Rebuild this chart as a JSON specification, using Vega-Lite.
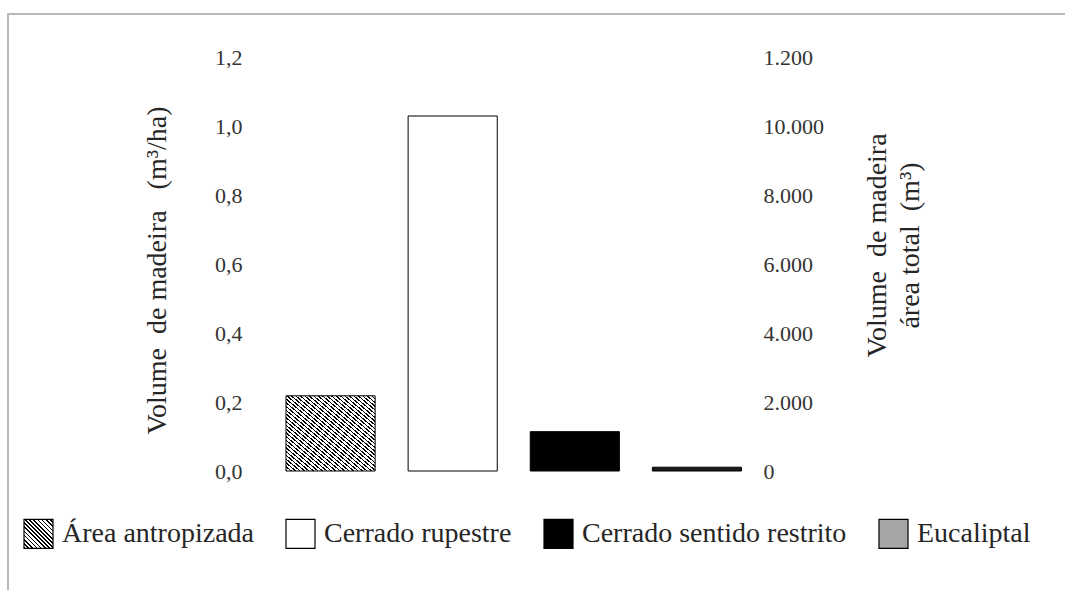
{
  "$schema": "https://vega.github.io/schema/vega-lite/v6.json",
  "autosize": {"type": "none"},
  "width": 1065,
  "height": 590,
  "padding": {"left": 8, "top": 14, "right": 0, "bottom": 0},
  "background": "white",
  "config": {
    "font": "Liberation Serif, Times New Roman, DejaVu Serif, serif",
    "view": {"stroke": "#b8b8b8", "strokeWidth": 2}
  },
  "data": {
    "values": [
      {"tipo": "Área antropizada", "vol": 0.218},
      {"tipo": "Cerrado rupestre", "vol": 1.029},
      {"tipo": "Cerrado sentido restrito", "vol": 0.114},
      {"tipo": "Eucaliptal", "vol": 0.011}
    ]
  },
  "encoding": {
    "x": {
      "field": "tipo",
      "type": "nominal",
      "sort": null,
      "axis": null,
      "scale": {"range": [261.5, 750], "paddingInner": 0.27, "paddingOuter": 0.135}
    }
  },
  "layer": [
    {
      "mark": {"type": "bar", "stroke": "black", "strokeWidth": 1},
      "encoding": {
        "y": {
          "field": "vol",
          "type": "quantitative",
          "scale": {"domain": [0, 1.2], "range": [457, 43], "nice": false},
          "axis": {
            "orient": "left",
            "values": [0, 0.2, 0.4, 0.6, 0.8, 1.0, 1.2],
            "labelExpr": "replace(format(datum.value, '.1f'), '.', ',')",
            "domain": false,
            "ticks": false,
            "grid": false,
            "offset": -236,
            "labelPadding": 2,
            "labelFont": "Liberation Serif, Times New Roman, DejaVu Serif, serif",
            "labelFontSize": 22,
            "labelColor": "#333333",
            "title": "Volume\u00a0 de madeira \u00a0 (m³/ha)",
            "titleFont": "Liberation Serif, Times New Roman, DejaVu Serif, serif",
            "titleFontSize": 28,
            "titleFontWeight": "normal",
            "titleColor": "#262626",
            "titleAngle": -90,
            "titleAlign": "center",
            "titleBaseline": "middle",
            "titleX": -87,
            "titleY": 256
          }
        },
        "fill": {
          "condition": [
            {"test": "datum.tipo === 'Área antropizada'", "value": {"gradient": "linear", "x1": 0, "y1": 1, "x2": 1, "y2": 0, "stops": [
                {"offset": 0, "color": "#000"}, {"offset": 0.0095, "color": "#000"}, {"offset": 0.0095, "color": "#fff"}, {"offset": 0.025, "color": "#fff"},
                {"offset": 0.025, "color": "#000"}, {"offset": 0.0345, "color": "#000"}, {"offset": 0.0345, "color": "#fff"}, {"offset": 0.05, "color": "#fff"},
                {"offset": 0.05, "color": "#000"}, {"offset": 0.0595, "color": "#000"}, {"offset": 0.0595, "color": "#fff"}, {"offset": 0.075, "color": "#fff"},
                {"offset": 0.075, "color": "#000"}, {"offset": 0.0845, "color": "#000"}, {"offset": 0.0845, "color": "#fff"}, {"offset": 0.1, "color": "#fff"},
                {"offset": 0.1, "color": "#000"}, {"offset": 0.1095, "color": "#000"}, {"offset": 0.1095, "color": "#fff"}, {"offset": 0.125, "color": "#fff"},
                {"offset": 0.125, "color": "#000"}, {"offset": 0.1345, "color": "#000"}, {"offset": 0.1345, "color": "#fff"}, {"offset": 0.15, "color": "#fff"},
                {"offset": 0.15, "color": "#000"}, {"offset": 0.1595, "color": "#000"}, {"offset": 0.1595, "color": "#fff"}, {"offset": 0.175, "color": "#fff"},
                {"offset": 0.175, "color": "#000"}, {"offset": 0.1845, "color": "#000"}, {"offset": 0.1845, "color": "#fff"}, {"offset": 0.2, "color": "#fff"},
                {"offset": 0.2, "color": "#000"}, {"offset": 0.2095, "color": "#000"}, {"offset": 0.2095, "color": "#fff"}, {"offset": 0.225, "color": "#fff"},
                {"offset": 0.225, "color": "#000"}, {"offset": 0.2345, "color": "#000"}, {"offset": 0.2345, "color": "#fff"}, {"offset": 0.25, "color": "#fff"},
                {"offset": 0.25, "color": "#000"}, {"offset": 0.2595, "color": "#000"}, {"offset": 0.2595, "color": "#fff"}, {"offset": 0.275, "color": "#fff"},
                {"offset": 0.275, "color": "#000"}, {"offset": 0.2845, "color": "#000"}, {"offset": 0.2845, "color": "#fff"}, {"offset": 0.3, "color": "#fff"},
                {"offset": 0.3, "color": "#000"}, {"offset": 0.3095, "color": "#000"}, {"offset": 0.3095, "color": "#fff"}, {"offset": 0.325, "color": "#fff"},
                {"offset": 0.325, "color": "#000"}, {"offset": 0.3345, "color": "#000"}, {"offset": 0.3345, "color": "#fff"}, {"offset": 0.35, "color": "#fff"},
                {"offset": 0.35, "color": "#000"}, {"offset": 0.3595, "color": "#000"}, {"offset": 0.3595, "color": "#fff"}, {"offset": 0.375, "color": "#fff"},
                {"offset": 0.375, "color": "#000"}, {"offset": 0.3845, "color": "#000"}, {"offset": 0.3845, "color": "#fff"}, {"offset": 0.4, "color": "#fff"},
                {"offset": 0.4, "color": "#000"}, {"offset": 0.4095, "color": "#000"}, {"offset": 0.4095, "color": "#fff"}, {"offset": 0.425, "color": "#fff"},
                {"offset": 0.425, "color": "#000"}, {"offset": 0.4345, "color": "#000"}, {"offset": 0.4345, "color": "#fff"}, {"offset": 0.45, "color": "#fff"},
                {"offset": 0.45, "color": "#000"}, {"offset": 0.4595, "color": "#000"}, {"offset": 0.4595, "color": "#fff"}, {"offset": 0.475, "color": "#fff"},
                {"offset": 0.475, "color": "#000"}, {"offset": 0.4845, "color": "#000"}, {"offset": 0.4845, "color": "#fff"}, {"offset": 0.5, "color": "#fff"},
                {"offset": 0.5, "color": "#000"}, {"offset": 0.5095, "color": "#000"}, {"offset": 0.5095, "color": "#fff"}, {"offset": 0.525, "color": "#fff"},
                {"offset": 0.525, "color": "#000"}, {"offset": 0.5345, "color": "#000"}, {"offset": 0.5345, "color": "#fff"}, {"offset": 0.55, "color": "#fff"},
                {"offset": 0.55, "color": "#000"}, {"offset": 0.5595, "color": "#000"}, {"offset": 0.5595, "color": "#fff"}, {"offset": 0.575, "color": "#fff"},
                {"offset": 0.575, "color": "#000"}, {"offset": 0.5845, "color": "#000"}, {"offset": 0.5845, "color": "#fff"}, {"offset": 0.6, "color": "#fff"},
                {"offset": 0.6, "color": "#000"}, {"offset": 0.6095, "color": "#000"}, {"offset": 0.6095, "color": "#fff"}, {"offset": 0.625, "color": "#fff"},
                {"offset": 0.625, "color": "#000"}, {"offset": 0.6345, "color": "#000"}, {"offset": 0.6345, "color": "#fff"}, {"offset": 0.65, "color": "#fff"},
                {"offset": 0.65, "color": "#000"}, {"offset": 0.6595, "color": "#000"}, {"offset": 0.6595, "color": "#fff"}, {"offset": 0.675, "color": "#fff"},
                {"offset": 0.675, "color": "#000"}, {"offset": 0.6845, "color": "#000"}, {"offset": 0.6845, "color": "#fff"}, {"offset": 0.7, "color": "#fff"},
                {"offset": 0.7, "color": "#000"}, {"offset": 0.7095, "color": "#000"}, {"offset": 0.7095, "color": "#fff"}, {"offset": 0.725, "color": "#fff"},
                {"offset": 0.725, "color": "#000"}, {"offset": 0.7345, "color": "#000"}, {"offset": 0.7345, "color": "#fff"}, {"offset": 0.75, "color": "#fff"},
                {"offset": 0.75, "color": "#000"}, {"offset": 0.7595, "color": "#000"}, {"offset": 0.7595, "color": "#fff"}, {"offset": 0.775, "color": "#fff"},
                {"offset": 0.775, "color": "#000"}, {"offset": 0.7845, "color": "#000"}, {"offset": 0.7845, "color": "#fff"}, {"offset": 0.8, "color": "#fff"},
                {"offset": 0.8, "color": "#000"}, {"offset": 0.8095, "color": "#000"}, {"offset": 0.8095, "color": "#fff"}, {"offset": 0.825, "color": "#fff"},
                {"offset": 0.825, "color": "#000"}, {"offset": 0.8345, "color": "#000"}, {"offset": 0.8345, "color": "#fff"}, {"offset": 0.85, "color": "#fff"},
                {"offset": 0.85, "color": "#000"}, {"offset": 0.8595, "color": "#000"}, {"offset": 0.8595, "color": "#fff"}, {"offset": 0.875, "color": "#fff"},
                {"offset": 0.875, "color": "#000"}, {"offset": 0.8845, "color": "#000"}, {"offset": 0.8845, "color": "#fff"}, {"offset": 0.9, "color": "#fff"},
                {"offset": 0.9, "color": "#000"}, {"offset": 0.9095, "color": "#000"}, {"offset": 0.9095, "color": "#fff"}, {"offset": 0.925, "color": "#fff"},
                {"offset": 0.925, "color": "#000"}, {"offset": 0.9345, "color": "#000"}, {"offset": 0.9345, "color": "#fff"}, {"offset": 0.95, "color": "#fff"},
                {"offset": 0.95, "color": "#000"}, {"offset": 0.9595, "color": "#000"}, {"offset": 0.9595, "color": "#fff"}, {"offset": 0.975, "color": "#fff"},
                {"offset": 0.975, "color": "#000"}, {"offset": 0.9845, "color": "#000"}, {"offset": 0.9845, "color": "#fff"}, {"offset": 1, "color": "#fff"}
              ]}},
            {"test": "datum.tipo === 'Eucaliptal'", "value": "#1a1a1a"}
          ],
          "field": "tipo",
          "type": "nominal",
          "sort": null,
          "scale": {
            "domain": ["Área antropizada", "Cerrado rupestre", "Cerrado sentido restrito", "Eucaliptal"],
            "range": [
              {"expr": "{gradient: 'linear', x1: 0, y1: 1, x2: 1, y2: 0, stops: [{offset: 0, color: '#000'}, {offset: 0.029, color: '#000'}, {offset: 0.029, color: '#fff'}, {offset: 0.0714, color: '#fff'}, {offset: 0.0714, color: '#000'}, {offset: 0.1004, color: '#000'}, {offset: 0.1004, color: '#fff'}, {offset: 0.1429, color: '#fff'}, {offset: 0.1429, color: '#000'}, {offset: 0.1719, color: '#000'}, {offset: 0.1719, color: '#fff'}, {offset: 0.2143, color: '#fff'}, {offset: 0.2143, color: '#000'}, {offset: 0.2433, color: '#000'}, {offset: 0.2433, color: '#fff'}, {offset: 0.2857, color: '#fff'}, {offset: 0.2857, color: '#000'}, {offset: 0.3147, color: '#000'}, {offset: 0.3147, color: '#fff'}, {offset: 0.3571, color: '#fff'}, {offset: 0.3571, color: '#000'}, {offset: 0.3861, color: '#000'}, {offset: 0.3861, color: '#fff'}, {offset: 0.4286, color: '#fff'}, {offset: 0.4286, color: '#000'}, {offset: 0.4576, color: '#000'}, {offset: 0.4576, color: '#fff'}, {offset: 0.5, color: '#fff'}, {offset: 0.5, color: '#000'}, {offset: 0.529, color: '#000'}, {offset: 0.529, color: '#fff'}, {offset: 0.5714, color: '#fff'}, {offset: 0.5714, color: '#000'}, {offset: 0.6004, color: '#000'}, {offset: 0.6004, color: '#fff'}, {offset: 0.6429, color: '#fff'}, {offset: 0.6429, color: '#000'}, {offset: 0.6719, color: '#000'}, {offset: 0.6719, color: '#fff'}, {offset: 0.7143, color: '#fff'}, {offset: 0.7143, color: '#000'}, {offset: 0.7433, color: '#000'}, {offset: 0.7433, color: '#fff'}, {offset: 0.7857, color: '#fff'}, {offset: 0.7857, color: '#000'}, {offset: 0.8147, color: '#000'}, {offset: 0.8147, color: '#fff'}, {offset: 0.8571, color: '#fff'}, {offset: 0.8571, color: '#000'}, {offset: 0.8861, color: '#000'}, {offset: 0.8861, color: '#fff'}, {offset: 0.9286, color: '#fff'}, {offset: 0.9286, color: '#000'}, {offset: 0.9576, color: '#000'}, {offset: 0.9576, color: '#fff'}, {offset: 1, color: '#fff'}]}"},
              "#ffffff",
              "#000000",
              "#a6a6a6"
            ]
          },
          "legend": {
            "orient": "none",
            "legendX": 15,
            "legendY": 504,
            "direction": "horizontal",
            "columns": 4,
            "title": null,
            "padding": 0,
            "symbolType": "square",
            "symbolSize": 841,
            "symbolStrokeColor": "#000000",
            "symbolStrokeWidth": 1.2,
            "symbolOpacity": 1,
            "labelFont": "Liberation Serif, Times New Roman, DejaVu Serif, serif",
            "labelFontSize": 28,
            "labelColor": "#262626",
            "labelLimit": 500,
            "labelOffset": 8,
            "columnPadding": 29,
            "encoding": {
              "symbols": {
                "stroke": {"value": "#000000"},
                "strokeWidth": {"value": 1.2}
              }
            }
          }
        }
      }
    },
    {
      "mark": {"type": "bar", "opacity": 0},
      "encoding": {
        "y": {
          "field": "vol",
          "type": "quantitative",
          "scale": {"domain": [0, 1.2], "range": [457, 43], "nice": false},
          "axis": {
            "orient": "right",
            "values": [0, 0.2, 0.4, 0.6, 0.8, 1.0, 1.2],
            "labelExpr": "datum.value > 1.1 ? '1.200' : replace(format(datum.value * 10000, ',.0f'), ',', '.')",
            "domain": false,
            "ticks": false,
            "grid": false,
            "offset": -312,
            "labelPadding": 2,
            "labelFont": "Liberation Serif, Times New Roman, DejaVu Serif, serif",
            "labelFontSize": 22,
            "labelColor": "#333333",
            "title": ["Volume\u00a0 de madeira", "área total\u00a0 (m³)"],
            "titleFont": "Liberation Serif, Times New Roman, DejaVu Serif, serif",
            "titleFontSize": 28,
            "titleFontWeight": "normal",
            "titleColor": "#262626",
            "titleAngle": -90,
            "titleAlign": "center",
            "titleBaseline": "middle",
            "titleLineHeight": 33,
            "titleX": 116,
            "titleY": 231
          }
        }
      }
    }
  ],
  "resolve": {"axis": {"y": "independent"}}
}
